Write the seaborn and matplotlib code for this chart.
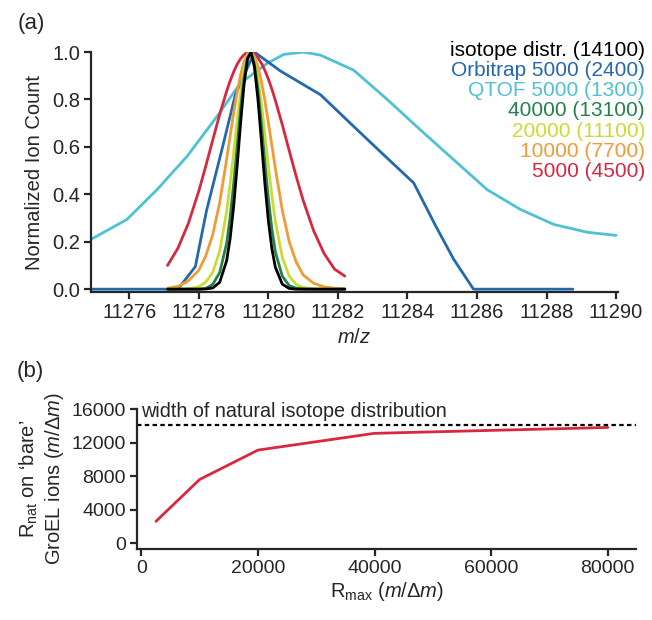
import numpy as np
import pandas as pd
import seaborn as sns
import matplotlib.pyplot as plt

# panel (a): simulated peaks share one m/z grid
mz = [11277.1, 11277.4, 11277.7, 11278.0, 11278.2, 11278.4, 11278.6, 11278.8, 11278.9, 11279.0,
      11279.1, 11279.2, 11279.3, 11279.4, 11279.5, 11279.6, 11279.7, 11279.8, 11279.9, 11280.0,
      11280.1, 11280.2, 11280.4, 11280.6, 11280.8, 11281.0, 11281.3, 11281.6, 11281.9, 11282.2]
isotope = [0, 0, 0, 0, 0.001, 0.005, 0.029, 0.12, 0.213, 0.347,
           0.515, 0.698, 0.862, 0.971, 1.0, 0.936, 0.801, 0.625, 0.445, 0.289,
           0.171, 0.093, 0.021, 0.003, 0, 0, 0, 0, 0, 0]
r40000 = [0, 0, 0, 0, 0.003, 0.02, 0.07, 0.193, 0.302, 0.441,
          0.598, 0.757, 0.891, 0.977, 1.0, 0.95, 0.842, 0.695, 0.534, 0.382,
          0.255, 0.158, 0.055, 0.015, 0.004, 0.001, 0, 0, 0, 0]
r20000 = [0, 0, 0.002, 0.01, 0.03, 0.07, 0.16, 0.327, 0.444, 0.573,
          0.706, 0.827, 0.925, 0.985, 1.0, 0.966, 0.89, 0.781, 0.653, 0.52,
          0.395, 0.286, 0.135, 0.055, 0.02, 0.007, 0.002, 0.001, 0, 0]
r10000 = [0.004, 0.012, 0.035, 0.08, 0.14, 0.23, 0.365, 0.548, 0.646, 0.741,
          0.829, 0.903, 0.959, 0.992, 1.0, 0.981, 0.939, 0.875, 0.795, 0.703,
          0.607, 0.51, 0.333, 0.2, 0.115, 0.06, 0.025, 0.01, 0.004, 0.002]
r5000 = [0.1, 0.173, 0.278, 0.414, 0.519, 0.629, 0.737, 0.835, 0.878, 0.916,
         0.948, 0.972, 0.989, 0.999, 1.0, 0.992, 0.976, 0.953, 0.923, 0.886,
         0.844, 0.797, 0.694, 0.584, 0.476, 0.375, 0.247, 0.151, 0.085, 0.055]

orbi_mz = [11274.9, 11277.4, 11277.9, 11278.22, 11278.7, 11279.05, 11279.6, 11280.35,
           11281.5, 11282.5, 11283.22, 11284.18, 11284.8, 11285.33, 11285.9, 11288.76]
orbi_int = [0, 0, 0.095, 0.33, 0.61, 0.82, 1.0, 0.92, 0.82, 0.68, 0.58, 0.448, 0.27, 0.126, 0, 0]

qtof_mz = [11274.9, 11275.93, 11276.8, 11277.66, 11278.52, 11279.19, 11279.96, 11280.44, 11281.02,
           11281.5, 11282.45, 11283.42, 11284.37, 11285.33, 11286.29, 11287.25, 11288.21, 11289.17, 11290.0]
qtof_int = [0.21, 0.294, 0.42, 0.56, 0.728, 0.868, 0.952, 0.99, 1.0,
            0.987, 0.924, 0.8, 0.672, 0.546, 0.42, 0.336, 0.273, 0.24, 0.227]

legend_labels = ['isotope distr. (14100)', 'Orbitrap 5000 (2400)', 'QTOF 5000 (1300)',
                 '40000 (13100)', '20000 (11100)', '10000 (7700)', '5000 (4500)']
legend_colors = ['#000000', '#2468ad', '#4ec2d4', '#23824a', '#cadb34', '#f29b36', '#d8283f']

# panel (b)
r_max = [2500, 10000, 20000, 40000, 80000]
r_nat = [2600, 7600, 11100, 13100, 13800]
natural_width = 14100

sns.set_style('ticks')
plt.rcParams['font.family'] = ['Liberation Sans', 'DejaVu Sans']
plt.rcParams['mathtext.fontset'] = 'custom'
plt.rcParams['mathtext.rm'] = 'Liberation Sans'
plt.rcParams['mathtext.it'] = 'Liberation Sans:italic'
plt.rcParams['axes.linewidth'] = 1.6
plt.rcParams['xtick.major.width'] = 1.6
plt.rcParams['ytick.major.width'] = 1.6
plt.rcParams['xtick.major.size'] = 5
plt.rcParams['ytick.major.size'] = 5

fig = plt.figure(figsize=(6.52, 6.2), dpi=100)
ax = fig.add_axes([0.1396, 0.529, 0.808, 0.387])
bx = fig.add_axes([0.2104, 0.1145, 0.7653, 0.2258])

lw = 2.0
sns.lineplot(x=qtof_mz, y=qtof_int, color=legend_colors[2], lw=lw, ax=ax, sort=False, estimator=None)
sns.lineplot(x=orbi_mz, y=orbi_int, color=legend_colors[1], lw=lw, ax=ax, sort=False, estimator=None)
for vals, c in [(r5000, legend_colors[6]), (r10000, legend_colors[5]), (r20000, legend_colors[4]),
                (r40000, legend_colors[3]), (isotope, legend_colors[0])]:
    sns.lineplot(x=mz, y=vals, color=c, lw=lw, ax=ax, sort=False, estimator=None)

ax.set_xlim(11274.9, 11290.05)
ax.set_ylim(-0.012, 1.0)
ax.set_xticks(np.arange(11276, 11291, 2))
ax.set_yticks(np.arange(0, 1.01, 0.2))
ax.set_yticklabels(['%.1f' % v for v in np.arange(0, 1.01, 0.2)])
ax.tick_params(labelsize=14.5, pad=3)
ax.set_xlabel('$m/z$', fontsize=14.5, labelpad=4)
ax.set_ylabel('Normalized Ion Count', fontsize=14.5, labelpad=6)
sns.despine(ax=ax)

for i, (lab, c) in enumerate(zip(legend_labels, legend_colors)):
    fig.text(645 / 652, 1 - (50 + 20.3 * i) / 620, lab, color=c, fontsize=15,
             ha='right', va='center')

df_b = pd.DataFrame({'Rmax': r_max, 'Rnat': r_nat})
sns.lineplot(data=df_b, x='Rmax', y='Rnat', color='#d8283f', lw=2.0, ax=bx)
bx.axhline(natural_width, color='black', lw=1.6, ls=(0, (2, 1.5)))
bx.text(0, natural_width + 450, 'width of natural isotope distribution', fontsize=14.2,
        ha='left', va='bottom')
bx.set_xlim(-720, 84870)
bx.set_ylim(-700, 16000)
bx.set_xticks([0, 20000, 40000, 60000, 80000])
bx.set_yticks([0, 4000, 8000, 12000, 16000])
bx.tick_params(labelsize=14, pad=3)
bx.set_xlabel(r'R$_{\mathrm{max}}$ ($m/\Delta m$)', fontsize=14.5, labelpad=2)
bx.set_ylabel('R$_{\\mathrm{nat}}$ on \u2018bare\u2019\nGroEL ions ($m/\\Delta m$)', fontsize=14.5,
              labelpad=4, linespacing=1.2)
sns.despine(ax=bx)

fig.text(18 / 652, 1 - 23 / 620, '(a)', fontsize=16, ha='left', va='center')
fig.text(17 / 652, 1 - 371 / 620, '(b)', fontsize=16, ha='left', va='center')

fig.savefig('out.png', dpi=100)
